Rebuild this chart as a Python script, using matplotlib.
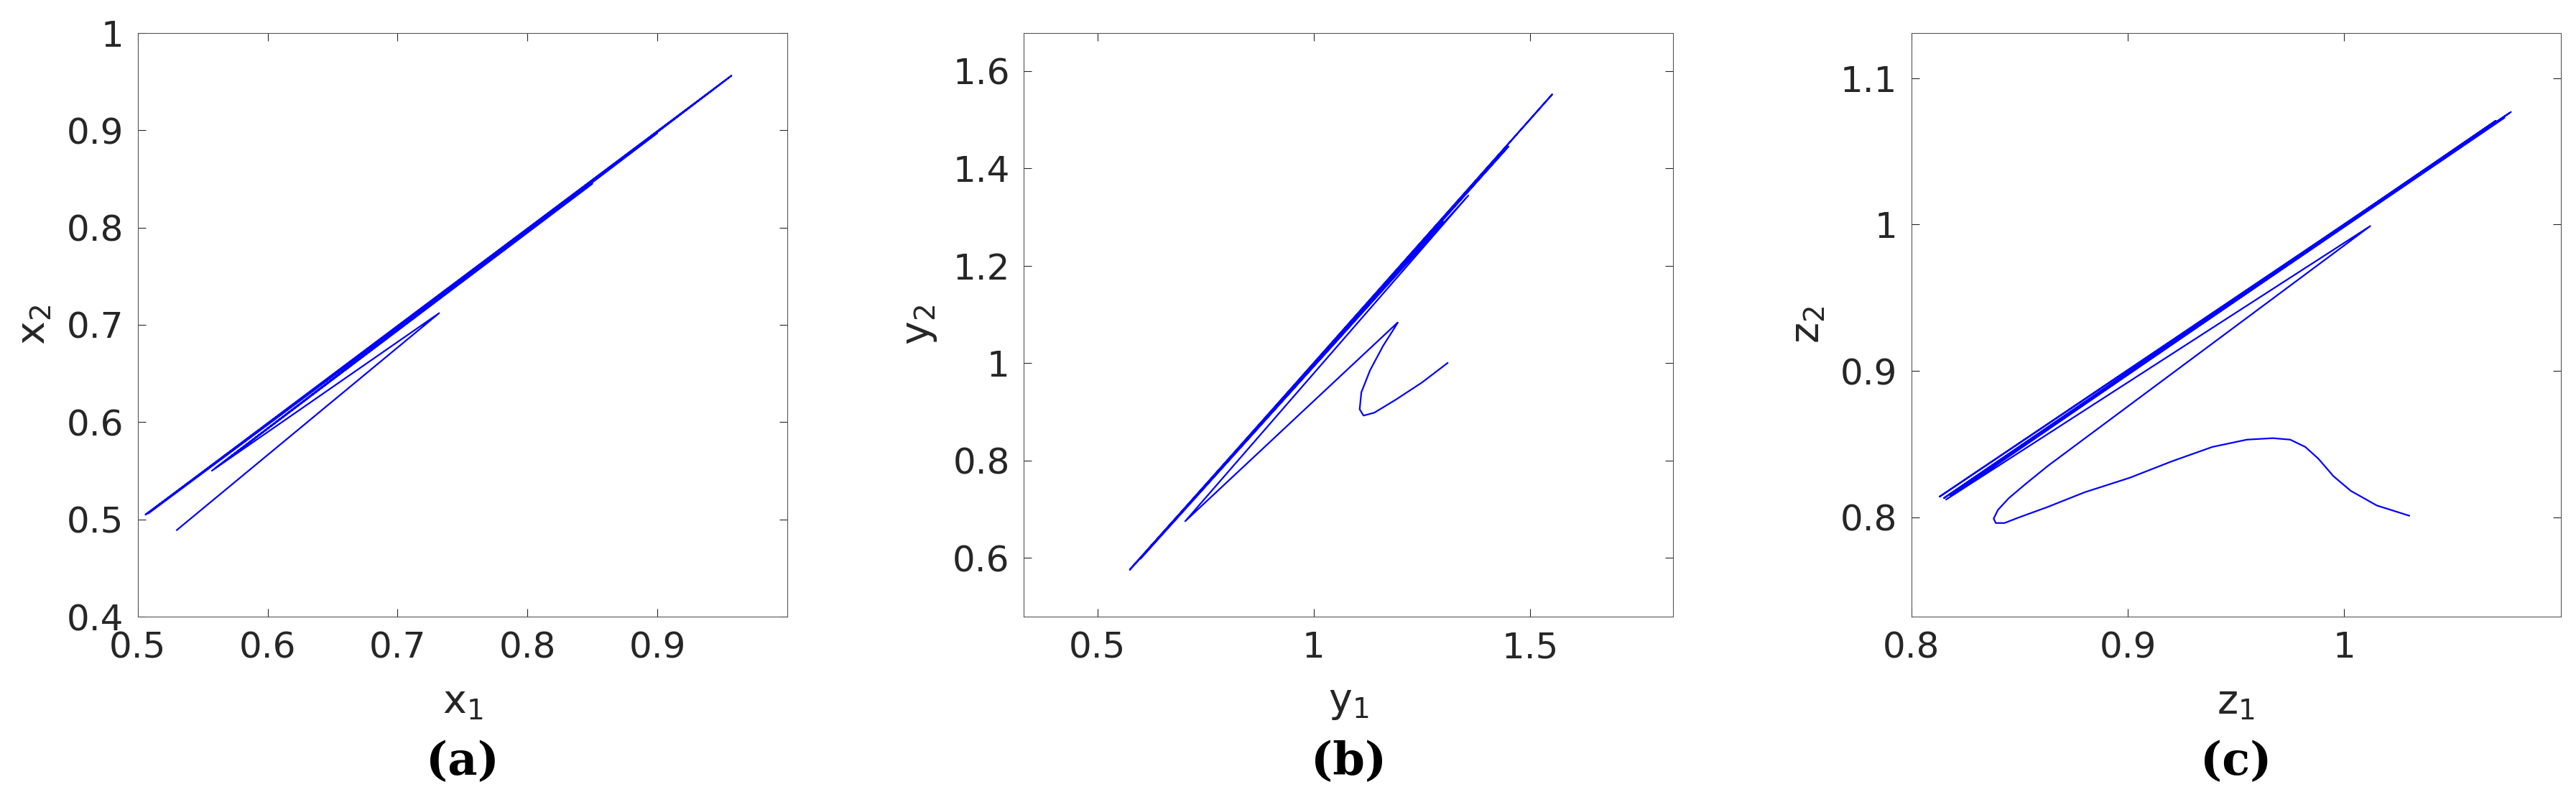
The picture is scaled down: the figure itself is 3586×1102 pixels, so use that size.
import matplotlib

matplotlib.use("Agg")
import matplotlib.pyplot as plt

# trajectory waypoints
x1 = [0.530, 0.732, 0.557, 0.957, 0.506, 0.850, 0.560, 0.957, 0.508, 0.780, 0.570, 0.900, 0.506]
x2 = [0.489, 0.712, 0.550, 0.956, 0.505, 0.845, 0.553, 0.956, 0.506, 0.776, 0.563, 0.897, 0.505]

y1 = [1.309, 1.25, 1.19, 1.14, 1.115, 1.106, 1.110, 1.130, 1.160, 1.185, 1.194, 1.190,
      0.703, 1.357, 0.575, 1.551, 0.60, 1.30, 0.62, 1.45, 0.576]
y2 = [1.000, 0.960, 0.925, 0.898, 0.892, 0.905, 0.940, 0.985, 1.035, 1.070, 1.083, 1.080,
      0.675, 1.344, 0.575, 1.552, 0.598, 1.29, 0.62, 1.445, 0.577]

z1 = [1.030, 1.015, 1.003, 0.995, 0.988, 0.982, 0.975, 0.967, 0.955, 0.939, 0.920, 0.901,
      0.880, 0.863, 0.850, 0.843, 0.839, 0.838, 0.840, 0.845, 0.853, 0.863,
      1.012, 0.816, 1.077, 0.813, 1.074, 0.818, 1.070, 0.815, 1.076]
z2 = [0.801, 0.808, 0.818, 0.828, 0.840, 0.848, 0.853, 0.854, 0.853, 0.848, 0.838, 0.827,
      0.817, 0.807, 0.800, 0.796, 0.796, 0.799, 0.805, 0.813, 0.823, 0.835,
      0.999, 0.812, 1.077, 0.814, 1.073, 0.815, 1.071, 0.813, 1.076]

panels = [
    (x1, x2, "x", (0.5, 1.0), (0.4, 1.0), [0.5, 0.6, 0.7, 0.8, 0.9], [0.4, 0.5, 0.6, 0.7, 0.8, 0.9, 1.0],
     ["0.5", "0.6", "0.7", "0.8", "0.9"], ["0.4", "0.5", "0.6", "0.7", "0.8", "0.9", "1"], "a"),
    (y1, y2, "y", (0.33, 1.83), (0.479, 1.678), [0.5, 1.0, 1.5], [0.6, 0.8, 1.0, 1.2, 1.4, 1.6],
     ["0.5", "1", "1.5"], ["0.6", "0.8", "1", "1.2", "1.4", "1.6"], "b"),
    (z1, z2, "z", (0.8, 1.1), (0.732, 1.131), [0.8, 0.9, 1.0], [0.8, 0.9, 1.0, 1.1],
     ["0.8", "0.9", "1"], ["0.8", "0.9", "1", "1.1"], "c"),
]

lefts = [0.0535, 0.3973, 0.7418]
width = 0.252
bottom = 0.2214
height = 0.737
tc = "#262626"

fig = plt.figure(figsize=(35.87, 11.02), dpi=100)
for (xs, ys, name, xl, yl, xt, yt, xtl, ytl, tag), left in zip(panels, lefts):
    ax = fig.add_axes([left, bottom, width, height])
    ax.plot(xs, ys, color="#0000ff", linewidth=1.6)
    ax.set_xlim(*xl)
    ax.set_ylim(*yl)
    ax.set_xticks(xt)
    ax.set_xticklabels(xtl)
    ax.set_yticks(yt)
    ax.set_yticklabels(ytl)
    ax.tick_params(direction="in", length=8, width=0.8, top=True, right=True,
                   labelsize=36, colors=tc, labelcolor=tc, pad=14)
    for s in ax.spines.values():
        s.set_linewidth(0.8)
        s.set_color("#555555")
    ax.set_xlabel(name + r"$_{\mathregular{1}}$", fontsize=40, color=tc, labelpad=18)
    ax.set_ylabel(name + r"$_{\mathregular{2}}$", fontsize=40, color=tc, labelpad=14)
    fig.text(left + width / 2, 0.038, f"({tag})", ha="center", va="center",
             fontsize=46, family="DejaVu Serif", weight="bold")

fig.savefig("out.png", dpi=100)
